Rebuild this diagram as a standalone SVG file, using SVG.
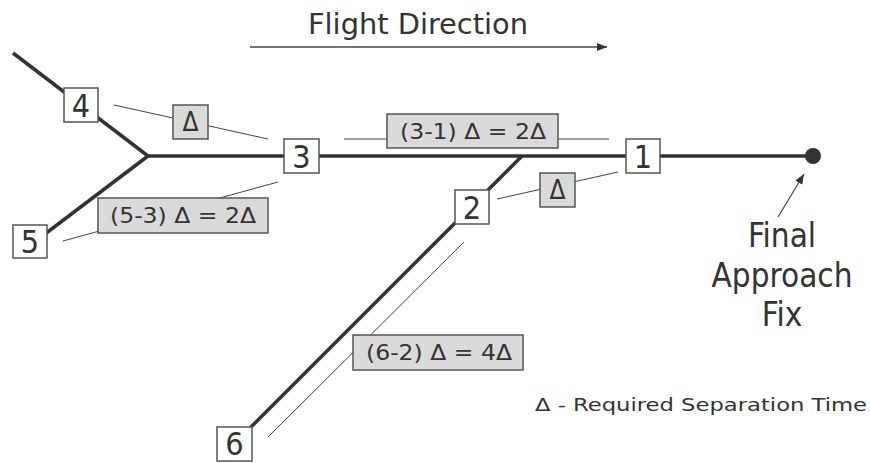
<svg xmlns="http://www.w3.org/2000/svg" width="870" height="463" viewBox="0 0 870 463">
  <defs>
    <marker id="arr" viewBox="0 0 10 10" refX="10" refY="5" markerWidth="10" markerHeight="10" markerUnits="userSpaceOnUse" orient="auto">
      <path d="M0,1 L10,5 L0,9 Z" fill="#333"/>
    </marker>
    <style>
      .main { stroke:#333; stroke-width:3.5; fill:none; stroke-linecap:butt; }
      .thin { stroke:#444; stroke-width:1; fill:none; }
      .nbox { fill:#fff; stroke:#555; stroke-width:1.5; }
      .gbox { fill:#dadada; stroke:#555; stroke-width:1.5; }
      text { font-family:"DejaVu Sans Condensed", "Liberation Sans", Arial, sans-serif; fill:#333; }
      .num { font-size:32px; text-anchor:middle; }
      .dl { font-size:26px; text-anchor:middle; }
      .lbl { font-size:22px; }
      .big { font-size:33px; text-anchor:middle; }
    </style>
  </defs>
  <rect width="870" height="463" fill="#fff"/>

  <g id="title">
    <text x="308" y="34" font-size="28" textLength="220" lengthAdjust="spacingAndGlyphs">Flight Direction</text>
    <line x1="250" y1="47" x2="607" y2="47" stroke="#444" stroke-width="1.5" marker-end="url(#arr)"/>
  </g>

  <g id="connectors">
    <line class="main" x1="13" y1="53" x2="148" y2="156"/>
    <line class="main" x1="148" y1="156" x2="813" y2="156"/>
    <line class="main" x1="148" y1="156" x2="45" y2="234"/>
    <line class="main" x1="522" y1="156" x2="250" y2="428"/>
    <line class="thin" x1="114" y1="105" x2="268" y2="139"/>
    <line class="thin" x1="63" y1="241" x2="278" y2="182"/>
    <line class="thin" x1="344" y1="139" x2="609" y2="139"/>
    <line class="thin" x1="497" y1="199" x2="618" y2="172"/>
    <line class="thin" x1="464" y1="242" x2="268" y2="437"/>
    <line x1="778" y1="217" x2="804" y2="174" stroke="#444" stroke-width="1.2" marker-end="url(#arr)"/>
  </g>

  <g id="fix">
    <circle cx="813" cy="156" r="8" fill="#333"/>
    <text class="big" x="782" y="247">Final</text>
    <text class="big" x="782" y="287">Approach</text>
    <text class="big" x="782" y="326">Fix</text>
  </g>

  <g id="node4"><rect class="nbox" x="64" y="88" width="34" height="34"/><text class="num" x="81" y="117">4</text></g>
  <g id="node3"><rect class="nbox" x="284" y="139" width="35" height="34"/><text class="num" x="301.5" y="168">3</text></g>
  <g id="node1"><rect class="nbox" x="626" y="139" width="34" height="34"/><text class="num" x="643" y="168">1</text></g>
  <g id="node5"><rect class="nbox" x="13" y="225" width="34" height="33"/><text class="num" x="30" y="253">5</text></g>
  <g id="node2"><rect class="nbox" x="455" y="190" width="34" height="34"/><text class="num" x="472" y="219">2</text></g>
  <g id="node6"><rect class="nbox" x="217" y="427" width="35" height="34"/><text class="num" x="234.5" y="455">6</text></g>

  <g id="sep43"><rect class="gbox" x="173" y="105" width="35" height="34"/><text class="dl" x="190.5" y="131">Δ</text></g>
  <g id="sep21"><rect class="gbox" x="540" y="173" width="35" height="34"/><text class="dl" x="557.5" y="199">Δ</text></g>
  <g id="sep31"><rect class="gbox" x="387" y="114" width="171" height="34"/><text class="lbl" x="400" y="139" textLength="146" lengthAdjust="spacingAndGlyphs">(3-1) Δ = 2Δ</text></g>
  <g id="sep53"><rect class="gbox" x="98" y="198" width="170" height="35"/><text class="lbl" x="110" y="223" textLength="146" lengthAdjust="spacingAndGlyphs">(5-3) Δ = 2Δ</text></g>
  <g id="sep62"><rect class="gbox" x="353" y="335" width="170" height="35"/><text class="lbl" x="366" y="360" textLength="146" lengthAdjust="spacingAndGlyphs">(6-2) Δ = 4Δ</text></g>

  <g id="legend">
    <text x="535" y="411" font-size="18" textLength="332" lengthAdjust="spacingAndGlyphs">Δ - Required Separation Time</text>
  </g>
</svg>
